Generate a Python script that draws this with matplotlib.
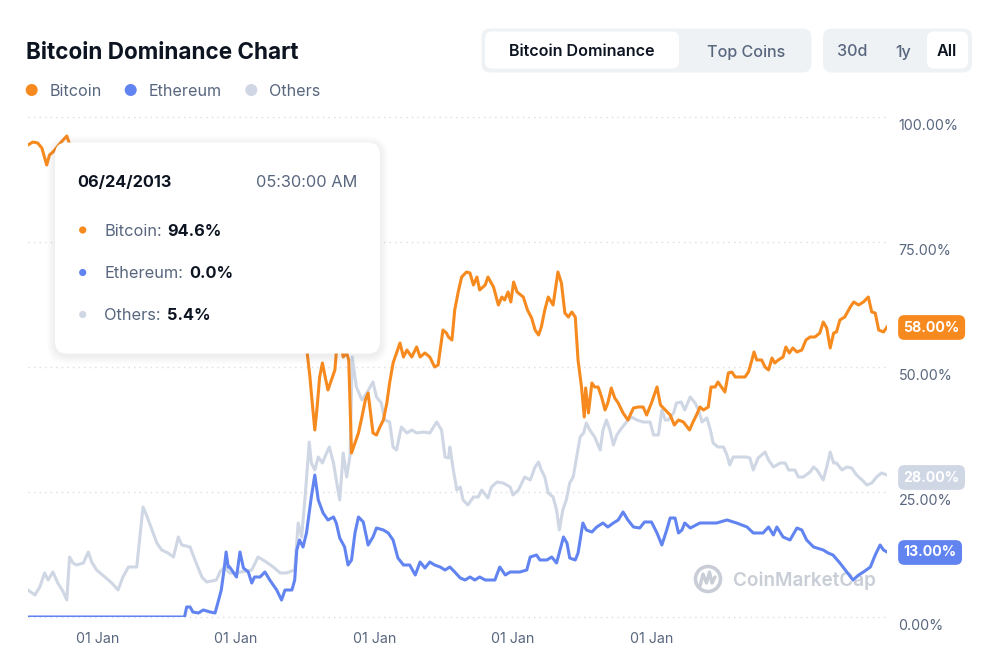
import matplotlib
matplotlib.use('Agg')
import matplotlib.pyplot as plt
import matplotlib.transforms as mtransforms
from matplotlib.patches import FancyBboxPatch, Circle
from matplotlib.lines import Line2D

plt.rcParams['font.family'] = ['Inter', 'DejaVu Sans']

# ---------------- data (decimal years, dominance %) ----------------
btc_t = [2013.31, 2013.38, 2013.45, 2013.51, 2013.58, 2013.62, 2013.67, 2013.79, 2013.87, 2013.90,
         2013.95, 2014.10, 2014.40, 2014.60, 2014.90, 2014.97, 2015.10, 2015.40, 2015.60, 2015.80,
         2016.00, 2016.15, 2016.40, 2016.60, 2016.90, 2017.10, 2017.20, 2017.28, 2017.34, 2017.38,
         2017.40, 2017.45, 2017.48, 2017.52, 2017.56, 2017.60, 2017.64, 2017.69, 2017.74, 2017.76,
         2017.81, 2017.86, 2017.91, 2017.94, 2017.98, 2018.03, 2018.08, 2018.13, 2018.18, 2018.22,
         2018.25, 2018.29, 2018.34, 2018.39, 2018.44, 2018.49, 2018.53, 2018.58, 2018.63, 2018.68,
         2018.73, 2018.78, 2018.85, 2018.92, 2018.97, 2019.04, 2019.11, 2019.18, 2019.23, 2019.30,
         2019.35, 2019.38, 2019.43, 2019.47, 2019.52, 2019.57, 2019.64, 2019.69, 2019.74, 2019.79,
         2019.83, 2019.91, 2019.95, 2020.03, 2020.10, 2020.15, 2020.19, 2020.24, 2020.28, 2020.32,
         2020.37, 2020.46, 2020.52, 2020.58, 2020.63, 2020.68, 2020.72, 2020.77, 2020.82, 2020.89,
         2020.96, 2021.01, 2021.06, 2021.11, 2021.16, 2021.21, 2021.25, 2021.30, 2021.34, 2021.36,
         2021.40, 2021.45, 2021.49, 2021.54, 2021.59, 2021.64, 2021.68, 2021.73, 2021.78, 2021.83,
         2021.90, 2021.97, 2022.05, 2022.12, 2022.19, 2022.24, 2022.31, 2022.39, 2022.44, 2022.51,
         2022.58, 2022.64, 2022.70, 2022.77, 2022.86, 2022.91, 2022.96, 2023.01, 2023.06, 2023.13,
         2023.17, 2023.23, 2023.27, 2023.32, 2023.37, 2023.42, 2023.47, 2023.52, 2023.66, 2023.71,
         2023.76, 2023.79, 2023.83, 2023.90, 2023.95, 2024.00, 2024.05, 2024.09, 2024.14, 2024.21,
         2024.25, 2024.30, 2024.35, 2024.41, 2024.48, 2024.54, 2024.60, 2024.67, 2024.74, 2024.79,
         2024.84, 2024.89, 2024.94, 2024.98, 2025.03, 2025.10, 2025.18, 2025.23, 2025.30, 2025.37,
         2025.44, 2025.49, 2025.54, 2025.59, 2025.66, 2025.71]
btc_v = [94.4, 95.0, 94.8, 93.8, 90.4, 92.4, 93.0, 95.0, 96.2, 95.0,
         93.0, 90.5, 92.0, 94.0, 89.0, 78.0, 82.0, 88.0, 86.0, 90.0,
         91.0, 78.0, 80.0, 83.0, 86.0, 85.0, 72.0, 62.0, 52.8, 48.0,
         44.8, 37.4, 41.4, 48.0, 50.8, 48.0, 45.4, 47.4, 49.4, 52.8,
         56.0, 52.0, 52.8, 51.4, 32.8, 34.8, 36.8, 40.0, 43.4, 44.8,
         41.4, 36.8, 36.4, 38.0, 39.4, 42.8, 46.8, 50.8, 52.8, 54.8,
         52.0, 53.4, 52.0, 54.0, 52.0, 52.8, 52.0, 50.0, 50.4, 57.4,
         56.8, 56.0, 55.4, 61.4, 65.0, 68.0, 69.0, 68.8, 66.4, 68.0,
         65.4, 66.4, 68.0, 66.0, 62.4, 64.0, 63.4, 65.0, 63.0, 67.0,
         65.0, 64.0, 61.4, 59.8, 57.4, 56.4, 58.0, 61.4, 64.0, 62.4,
         69.0, 66.8, 60.8, 60.0, 61.0, 60.0, 51.4, 46.0, 40.0, 45.8,
         40.8, 46.8, 46.0, 46.0, 44.0, 41.4, 42.8, 45.8, 43.8, 42.8,
         40.8, 39.4, 41.8, 42.0, 42.0, 40.4, 42.8, 46.0, 42.4, 41.4,
         40.4, 38.4, 39.4, 39.0, 37.4, 39.0, 40.4, 42.0, 41.4, 42.0,
         46.0, 46.0, 47.0, 46.0, 45.0, 48.8, 49.0, 48.0, 48.0, 49.0,
         51.4, 53.0, 51.4, 51.4, 50.0, 49.4, 51.8, 50.8, 51.4, 52.0,
         54.0, 52.8, 53.8, 53.0, 53.4, 55.4, 56.0, 56.0, 56.8, 59.0,
         57.8, 53.8, 56.8, 57.0, 59.4, 60.0, 62.0, 63.0, 62.4, 63.0,
         64.0, 61.0, 60.8, 57.4, 57.0, 58.0]

oth_t = [2013.31, 2013.41, 2013.48, 2013.55, 2013.60, 2013.67, 2013.74, 2013.82, 2013.87, 2013.91,
         2013.96, 2014.01, 2014.11, 2014.18, 2014.23, 2014.30, 2014.42, 2014.52, 2014.61, 2014.68,
         2014.76, 2014.88, 2014.97, 2015.02, 2015.09, 2015.17, 2015.24, 2015.33, 2015.41, 2015.48,
         2015.53, 2015.65, 2015.72, 2015.82, 2015.89, 2016.03, 2016.08, 2016.15, 2016.22, 2016.30,
         2016.54, 2016.63, 2016.75, 2016.85, 2016.95, 2017.04, 2017.16, 2017.21, 2017.26, 2017.31,
         2017.37, 2017.40, 2017.45, 2017.50, 2017.56, 2017.62, 2017.66, 2017.72, 2017.76, 2017.81,
         2017.86, 2017.91, 2017.96, 2017.99, 2018.05, 2018.13, 2018.20, 2018.29, 2018.34, 2018.41,
         2018.46, 2018.53, 2018.58, 2018.63, 2018.70, 2018.78, 2018.85, 2018.92, 2019.02, 2019.11,
         2019.21, 2019.28, 2019.33, 2019.38, 2019.40, 2019.45, 2019.50, 2019.55, 2019.59, 2019.66,
         2019.74, 2019.81, 2019.86, 2019.95, 2020.00, 2020.08, 2020.17, 2020.27, 2020.31, 2020.39,
         2020.48, 2020.56, 2020.63, 2020.68, 2020.72, 2020.77, 2020.82, 2020.89, 2020.94, 2020.98,
         2021.03, 2021.08, 2021.13, 2021.18, 2021.23, 2021.28, 2021.33, 2021.37, 2021.42, 2021.49,
         2021.57, 2021.61, 2021.66, 2021.71, 2021.76, 2021.81, 2021.88, 2021.95, 2022.02, 2022.10,
         2022.19, 2022.29, 2022.34, 2022.41, 2022.46, 2022.51, 2022.55, 2022.63, 2022.67, 2022.74,
         2022.79, 2022.87, 2022.94, 2022.99, 2023.04, 2023.11, 2023.16, 2023.20, 2023.27, 2023.35,
         2023.40, 2023.44, 2023.49, 2023.68, 2023.73, 2023.78, 2023.85, 2023.95, 2024.00, 2024.07,
         2024.17, 2024.24, 2024.29, 2024.38, 2024.43, 2024.50, 2024.60, 2024.65, 2024.70, 2024.79,
         2024.84, 2024.89, 2024.94, 2024.98, 2025.06, 2025.13, 2025.20, 2025.27, 2025.35, 2025.42,
         2025.49, 2025.56, 2025.63, 2025.71]
oth_v = [5.4, 4.4, 6.0, 8.8, 7.4, 9.0, 6.8, 5.0, 3.4, 12.0,
         10.8, 10.4, 10.8, 13.0, 11.0, 9.4, 8.0, 6.8, 5.4, 8.0,
         10.0, 10.0, 22.0, 20.4, 17.8, 14.8, 13.4, 12.8, 12.0, 16.0,
         14.4, 14.0, 11.4, 8.0, 7.0, 7.4, 9.0, 10.0, 8.8, 8.8,
         9.4, 12.0, 11.0, 10.0, 8.8, 8.8, 9.4, 18.8, 16.0, 24.0,
         35.0, 30.8, 29.4, 32.0, 30.8, 32.8, 34.0, 30.8, 27.4, 23.4,
         32.8, 28.0, 32.4, 52.0, 46.0, 43.4, 44.8, 47.0, 44.0, 42.8,
         39.4, 39.0, 34.0, 33.4, 38.0, 36.8, 37.4, 36.8, 37.0, 36.8,
         39.0, 37.4, 32.0, 31.8, 34.0, 29.4, 25.4, 26.0, 23.4, 22.4,
         24.0, 24.0, 25.4, 23.8, 26.0, 27.0, 26.8, 26.0, 24.4, 25.4,
         28.0, 27.4, 30.0, 31.0, 29.4, 28.0, 24.8, 24.0, 21.4, 17.4,
         21.4, 23.4, 26.8, 28.0, 32.0, 36.0, 36.8, 38.8, 37.4, 36.0,
         33.4, 37.4, 39.4, 37.4, 34.4, 36.4, 37.8, 39.0, 40.0, 39.4,
         39.0, 39.0, 36.4, 36.4, 41.4, 39.4, 39.4, 40.8, 42.8, 43.0,
         41.4, 44.0, 42.8, 41.4, 39.0, 39.8, 37.4, 34.8, 34.0, 34.0,
         32.4, 30.4, 32.0, 32.0, 31.8, 29.4, 31.8, 33.0, 31.4, 30.0,
         30.8, 30.8, 29.4, 29.4, 28.0, 28.0, 29.0, 30.0, 29.4, 27.4,
         30.0, 33.0, 30.8, 30.8, 29.4, 30.0, 29.8, 28.4, 27.4, 26.4,
         26.8, 28.0, 28.8, 28.4]

eth_t = [2013.31, 2015.57, 2015.60, 2015.65, 2015.69, 2015.77, 2015.84, 2015.94, 2016.01, 2016.05,
         2016.10, 2016.14, 2016.17, 2016.20, 2016.22, 2016.27, 2016.32, 2016.37, 2016.42, 2016.49,
         2016.54, 2016.58, 2016.66, 2016.73, 2016.80, 2016.90, 2016.97, 2017.02, 2017.12, 2017.16,
         2017.19, 2017.23, 2017.28, 2017.33, 2017.40, 2017.45, 2017.50, 2017.57, 2017.64, 2017.72,
         2017.76, 2017.81, 2017.88, 2017.93, 2017.98, 2018.03, 2018.08, 2018.15, 2018.22, 2018.29,
         2018.34, 2018.44, 2018.51, 2018.58, 2018.65, 2018.73, 2018.82, 2018.90, 2018.97, 2019.04,
         2019.11, 2019.18, 2019.26, 2019.33, 2019.40, 2019.47, 2019.55, 2019.62, 2019.69, 2019.76,
         2019.83, 2019.91, 2020.05, 2020.12, 2020.20, 2020.27, 2020.41, 2020.51, 2020.56, 2020.65,
         2020.70, 2020.80, 2020.87, 2020.94, 2021.04, 2021.09, 2021.13, 2021.21, 2021.25, 2021.32,
         2021.37, 2021.45, 2021.52, 2021.61, 2021.68, 2021.76, 2021.83, 2021.90, 2021.97, 2022.05,
         2022.14, 2022.21, 2022.31, 2022.39, 2022.46, 2022.53, 2022.58, 2022.65, 2022.70, 2022.75,
         2022.79, 2022.87, 2023.01, 2023.25, 2023.40, 2023.54, 2023.69, 2023.78, 2023.92, 2024.00,
         2024.07, 2024.12, 2024.21, 2024.31, 2024.41, 2024.48, 2024.55, 2024.65, 2024.79, 2024.86,
         2024.93, 2025.03, 2025.13, 2025.22, 2025.30, 2025.37, 2025.47, 2025.54, 2025.61, 2025.66,
         2025.71]
eth_v = [0.0, 0.0, 2.0, 2.0, 1.0, 0.8, 1.4, 1.0, 0.8, 2.8,
         5.4, 9.4, 13.0, 10.0, 10.0, 9.0, 8.0, 13.0, 9.8, 9.0,
         6.8, 8.0, 8.0, 9.0, 7.4, 5.4, 3.4, 5.4, 5.4, 7.4,
         13.4, 15.4, 14.0, 16.8, 24.0, 28.4, 23.4, 20.8, 19.4, 20.0,
         18.8, 15.8, 14.0, 10.4, 11.4, 16.8, 20.0, 19.0, 14.4, 16.0,
         17.8, 17.4, 16.8, 15.4, 11.8, 10.4, 10.4, 8.4, 11.0, 9.8,
         11.0, 10.4, 10.0, 9.4, 10.0, 9.0, 7.8, 7.4, 8.0, 7.4,
         8.0, 7.4, 7.4, 10.0, 8.4, 9.0, 9.0, 9.4, 12.0, 12.4,
         11.4, 11.4, 12.0, 10.8, 16.0, 14.8, 11.8, 11.4, 12.8, 18.8,
         17.4, 17.0, 18.0, 18.8, 18.0, 18.8, 19.4, 21.0, 19.4, 18.0,
         17.8, 19.0, 19.0, 16.8, 14.4, 17.4, 19.8, 19.8, 16.8, 17.4,
         18.8, 17.8, 18.8, 18.8, 19.4, 18.8, 18.0, 16.8, 16.8, 18.0,
         16.4, 18.0, 16.0, 15.4, 17.8, 17.4, 15.4, 14.0, 13.4, 12.8,
         12.4, 10.8, 9.0, 7.4, 8.4, 9.0, 10.0, 12.4, 14.4, 13.4,
         13.0]

y_ticks = [0, 25, 50, 75, 100]
x_ticks = [2014, 2016, 2018, 2020, 2022]
x_tick_labels = ['01 Jan'] * 5
badge_values = [58.0, 28.0, 13.0]

# ---------------- styling ----------------
ORANGE = '#F68A1E'
BLUE = '#6184F0'
GRAY = '#CFD6E4'
DARK = '#0D1421'
MUTED = '#58667E'

W, H = 998, 662
fig = plt.figure(figsize=(W / 100, H / 100), dpi=100)
fig.patch.set_facecolor('white')
PX = mtransforms.Affine2D().scale(1, -1).translate(0, H)  # pixel coords, origin top-left

AX_L, AX_R, AX_T, AX_B = 28, 887, 117, 617
ax = fig.add_axes([AX_L / W, 1 - AX_B / H, (AX_R - AX_L) / W, (AX_B - AX_T) / H])
ax.set_xlim(2013.31, 2025.71)
ax.set_ylim(0, 100)
for s in ax.spines.values():
    s.set_visible(False)
ax.set_xticks([])
ax.set_yticks([])
ax.patch.set_alpha(0)

for v in y_ticks:
    ax.axhline(v, color='#D8DDE5', lw=1.0, ls=(0, (1, 3)), zorder=1, clip_on=False)

ax.plot(oth_t, oth_v, color=GRAY, lw=2.2, zorder=3, solid_joinstyle='round')
ax.plot(eth_t, eth_v, color=BLUE, lw=2.2, zorder=4, solid_joinstyle='round')
ax.plot(btc_t, btc_v, color=ORANGE, lw=2.2, zorder=5, solid_joinstyle='round')

def off(dx, dy):
    return mtransforms.ScaledTranslation(dx / 100, dy / 100, fig.dpi_scale_trans)

ty = mtransforms.blended_transform_factory(ax.transAxes, ax.transData)
tx = mtransforms.blended_transform_factory(ax.transData, ax.transAxes)

for v in y_ticks:
    ax.text(1.0, v, f'{v:.2f}%', transform=ty + off(11.5, -9), ha='left', va='center',
            fontsize=10.3, color=MUTED, clip_on=False)
for x, lab in zip(x_ticks, x_tick_labels):
    ax.text(x, 0, lab, transform=tx + off(0, -22), ha='left', va='center',
            fontsize=10.3, color=MUTED, clip_on=False)

for v, c in zip(badge_values, [ORANGE, GRAY, BLUE]):
    ax.text(1.0, v, f'{v:.2f}%', transform=ty + off(16.5, -0.5), ha='left', va='center',
            fontsize=10.2, weight='bold', color='white', clip_on=False, zorder=10,
            bbox=dict(boxstyle='round,pad=0.38,rounding_size=0.45', fc=c, ec='none'))

# watermark (behind lines)
WM = '#C8CDD6'
ring = Circle((708, 579), 12.5, fill=False, ec=WM, lw=2.6, transform=PX, zorder=2)
ax.add_artist(ring)
ax.add_line(Line2D([700, 703, 706.5, 709.5, 712, 715], [586, 574, 583, 572, 583, 577],
                   color=WM, lw=2.4, transform=PX, zorder=2, solid_joinstyle='round',
                   solid_capstyle='round'))
ax.text(733, 581, 'CoinMarketCap', transform=PX, ha='left', va='center', fontsize=13.6,
        weight='semibold', color=WM, zorder=2, clip_on=False)

# ---------------- header ----------------
fig.text(26.5, 53, 'Bitcoin Dominance Chart', transform=PX, ha='left', va='center',
         fontsize=16.2, weight='bold', color=DARK)

legend_items = [('Bitcoin', ORANGE, 31.7, 49.3), ('Ethereum', BLUE, 130.7, 148.3),
                ('Others', GRAY, 251.3, 269.3)]
for name, c, dx, tx0 in legend_items:
    fig.add_artist(Circle((dx, 90), 6.0, fc=c, ec='none', transform=PX))
    fig.text(tx0, 91.5, name, transform=PX, ha='left', va='center', fontsize=11.6, color=MUTED)

def rbox(x, y, w, h, r, fc, **kw):
    p = FancyBboxPatch((x, y), w, h, boxstyle=f'round,pad=0,rounding_size={r}',
                       fc=fc, ec='none', transform=PX, **kw)
    fig.add_artist(p)
    return p

rbox(481.5, 28.5, 330, 44, 9, '#EFF2F5')
rbox(485, 31.5, 194, 37, 7, 'white')
fig.text(582, 52, 'Bitcoin Dominance', transform=PX, ha='center', va='center',
         fontsize=11.6, weight='semibold', color=DARK)
fig.text(746, 52, 'Top Coins', transform=PX, ha='center', va='center',
         fontsize=11.6, weight='medium', color=MUTED)
rbox(823, 28.5, 149, 44, 9, '#EFF2F5')
rbox(927, 31.5, 41, 37, 7, 'white')
fig.text(852.5, 52, '30d', transform=PX, ha='center', va='center', fontsize=11.6,
         weight='medium', color=MUTED)
fig.text(903.5, 52, '1y', transform=PX, ha='center', va='center', fontsize=11.6,
         weight='medium', color=MUTED)
fig.text(947, 52, 'All', transform=PX, ha='center', va='center', fontsize=11.6,
         weight='semibold', color=DARK)

# ---------------- tooltip ----------------
TX, TY, TW, TH = 55, 142.5, 325, 211
for i in range(1, 9):
    rbox(TX - i, TY - i + 2, TW + 2 * i, TH + 2 * i, 12 + i, '#5A6A85', alpha=0.010)
rbox(TX, TY, TW, TH, 12, 'white')
fig.text(77.5, 182.5, '06/24/2013', transform=PX, ha='left', va='center', fontsize=11.8,
         weight='bold', color=DARK)
fig.text(357, 182.5, '05:30:00 AM', transform=PX, ha='right', va='center', fontsize=11.8,
         color=MUTED)
rows = [('Bitcoin:', '94.6%', ORANGE, 230, 167.5),
        ('Ethereum:', '0.0%', BLUE, 272.5, 189.5),
        ('Others:', '5.4%', GRAY, 314.5, 167.5)]
for lab, val, c, yy, vx in rows:
    fig.add_artist(Circle((82.7, yy), 3.6, fc=c, ec='none', transform=PX))
    fig.text(104, yy + 1.5, lab, transform=PX, ha='left', va='center', fontsize=11.8, color=MUTED)
    fig.text(vx, yy + 1.5, val, transform=PX, ha='left', va='center', fontsize=11.8,
             weight='bold', color=DARK)

fig.savefig('out.png', dpi=100, facecolor='white')
